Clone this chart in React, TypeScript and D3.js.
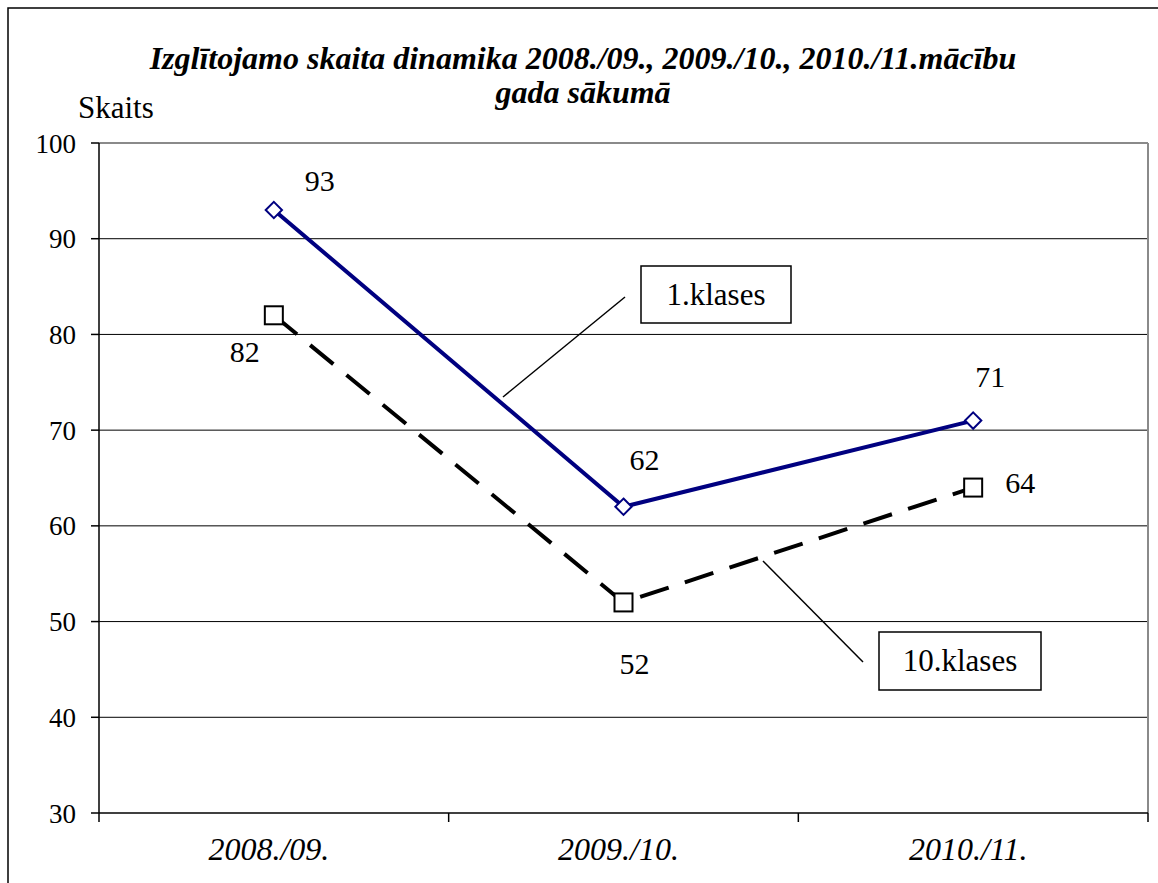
import React from "react";
import * as d3 from "d3";

const categories = ["2008./09.", "2009./10.", "2010./11."];
const series1Name = "1.klases";
const series1 = [93, 62, 71];
const series2Name = "10.klases";
const series2 = [82, 52, 64];
const yTicks = [30, 40, 50, 60, 70, 80, 90, 100];
const titleLines = [
  "Izglītojamo skaita dinamika 2008./09., 2009./10., 2010./11.mācību",
  "gada sākumā",
];
const yAxisTitle = "Skaits";

const FONT = '"Liberation Serif", "DejaVu Serif", serif';

export default function App() {
  const W = 1158;
  const H = 883;
  const left = 99;
  const right = 1148;
  const top = 143;
  const bottom = 813;

  const x = d3.scaleBand<string>().domain(categories).range([left, right]);
  const y = d3.scaleLinear().domain([30, 100]).range([bottom, top]);
  const cx = (c: string) => (x(c) as number) + x.bandwidth() / 2;

  const line = d3
    .line<number>()
    .x((_, i) => cx(categories[i]))
    .y((d) => y(d));

  const diamond = d3.symbol().type(d3.symbolDiamond2).size(170)();

  const lbl1 = [
    [46, -29],
    [21, -47],
    [17, -44],
  ];
  const lbl2 = [
    [-29, 37],
    [11, 62],
    [47, -5],
  ];

  const xTicks = [left, ...categories.map((c) => (x(c) as number) + x.bandwidth())];
  const ts = (size: number, extra: React.CSSProperties = {}): React.CSSProperties => ({
    fontFamily: FONT,
    fontSize: size,
    ...extra,
  });

  return (
    <svg
      width={W}
      height={H}
      style={{ position: "absolute", left: 0, top: 0, background: "#fff" }}
    >
      <rect x={8} y={8} width={1170} height={900} fill="#fff" stroke="#000" strokeWidth={1.5} />

      {/* title */}
      {titleLines.map((t, i) => (
        <text
          key={i}
          x={583}
          y={69 + i * 34}
          textAnchor="middle"
          style={ts(32, { fontWeight: "bold", fontStyle: "italic" })}
        >
          {t}
        </text>
      ))}
      <text x={78} y={118} style={ts(31)}>
        {yAxisTitle}
      </text>

      {/* gridlines */}
      {yTicks
        .filter((t) => t !== 30 && t !== 100)
        .map((t) => (
          <line key={t} x1={left} x2={right} y1={y(t)} y2={y(t)} stroke="#000" strokeWidth={1} />
        ))}
      {/* plot area border (gray) */}
      <line x1={left} x2={right} y1={top} y2={top} stroke="#8a8a8a" strokeWidth={2} />
      <line x1={right} x2={right} y1={top} y2={bottom} stroke="#8a8a8a" strokeWidth={2} />

      {/* y axis */}
      <line x1={left} x2={left} y1={top} y2={bottom} stroke="#000" strokeWidth={1.5} />
      {yTicks.map((t) => (
        <g key={t}>
          <line x1={left - 8} x2={left} y1={y(t)} y2={y(t)} stroke="#000" strokeWidth={1.5} />
          <text x={left - 23} y={y(t) + 9.5} textAnchor="end" style={ts(27)}>
            {t}
          </text>
        </g>
      ))}

      {/* x axis */}
      <line x1={left} x2={right} y1={bottom} y2={bottom} stroke="#000" strokeWidth={1.5} />
      {xTicks.map((t, i) => (
        <line key={i} x1={t} x2={t} y1={bottom} y2={bottom + 9} stroke="#000" strokeWidth={1.5} />
      ))}
      {categories.map((c) => (
        <text key={c} x={cx(c) - 5} y={860} textAnchor="middle" style={ts(32, { fontStyle: "italic" })}>
          {c}
        </text>
      ))}

      {/* series 2: dashed black */}
      <path
        d={line(series2) as string}
        fill="none"
        stroke="#000"
        strokeWidth={4}
        strokeDasharray="30,17"
      />
      {/* series 1: navy */}
      <path d={line(series1) as string} fill="none" stroke="#000080" strokeWidth={4} />

      {series2.map((v, i) => (
        <rect
          key={i}
          x={cx(categories[i]) - 9}
          y={y(v) - 9}
          width={18}
          height={18}
          fill="#fff"
          stroke="#000"
          strokeWidth={2}
        />
      ))}
      {series1.map((v, i) => (
        <path
          key={i}
          d={diamond as string}
          transform={`translate(${cx(categories[i])},${y(v)})`}
          fill="#fff"
          stroke="#000080"
          strokeWidth={2}
        />
      ))}

      {/* data labels */}
      {series1.map((v, i) => (
        <text
          key={i}
          x={cx(categories[i]) + lbl1[i][0]}
          y={y(v) + lbl1[i][1] + 10}
          textAnchor="middle"
          style={ts(30)}
        >
          {v}
        </text>
      ))}
      {series2.map((v, i) => (
        <text
          key={i}
          x={cx(categories[i]) + lbl2[i][0]}
          y={y(v) + lbl2[i][1] + 10}
          textAnchor="middle"
          style={ts(30)}
        >
          {v}
        </text>
      ))}

      {/* series callouts */}
      <line x1={503} y1={397} x2={625} y2={297} stroke="#000" strokeWidth={1.5} />
      <rect x={641} y={266} width={150} height={57} fill="#fff" stroke="#000" strokeWidth={1.5} />
      <text x={716} y={305} textAnchor="middle" style={ts(31)}>
        {series1Name}
      </text>

      <line x1={763} y1={561} x2={863} y2={662} stroke="#000" strokeWidth={1.5} />
      <rect x={879} y={632} width={162} height={58} fill="#fff" stroke="#000" strokeWidth={1.5} />
      <text x={960} y={671} textAnchor="middle" style={ts(31)}>
        {series2Name}
      </text>
    </svg>
  );
}
